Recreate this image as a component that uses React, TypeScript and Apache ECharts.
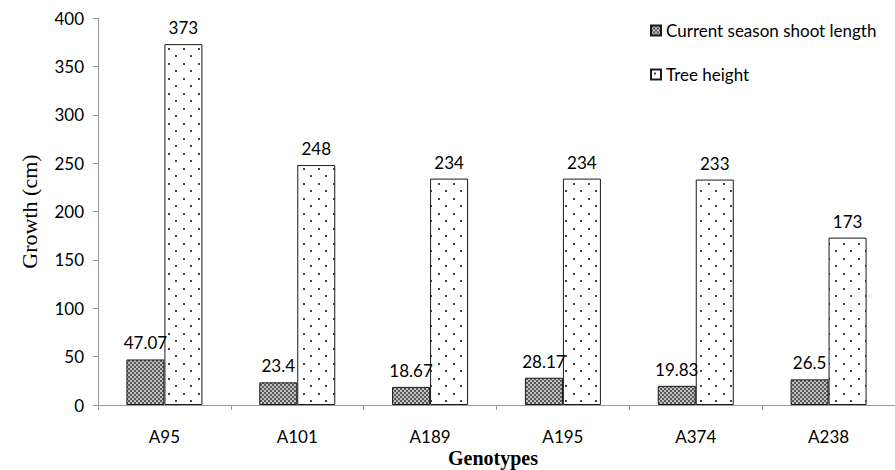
import React, { useEffect, useRef } from "react";
import * as echarts from "echarts";

const genotypes = ["A95", "A101", "A189", "A195", "A374", "A238"];
const shootLength = [47.07, 23.4, 18.67, 28.17, 19.83, 26.5];
const treeHeight = [373, 248, 234, 234, 233, 173];
const yTicks = { min: 0, max: 400, interval: 50 };

const FONT = "Lato, 'Open Sans', sans-serif";
const SERIF = "'Liberation Serif', 'DejaVu Serif', serif";

// Fine grey checkerboard fill for the shoot-length bars
function checkerPattern(): HTMLCanvasElement {
  const c = document.createElement("canvas");
  c.width = 4;
  c.height = 4;
  const ctx = c.getContext("2d")!;
  ctx.fillStyle = "#c0c0c0";
  ctx.fillRect(0, 0, 4, 4);
  ctx.fillStyle = "#5a5a5a";
  ctx.fillRect(0, 0, 2, 2);
  ctx.fillRect(2, 2, 2, 2);
  return c;
}

// Staggered dot fill for the tree-height bars
function dotPattern(): HTMLCanvasElement {
  const c = document.createElement("canvas");
  c.width = 15;
  c.height = 15;
  const ctx = c.getContext("2d")!;
  ctx.fillStyle = "#ffffff";
  ctx.fillRect(0, 0, 15, 15);
  ctx.fillStyle = "#444444";
  ctx.fillRect(3, 3, 2, 2);
  ctx.fillRect(10, 10, 2, 2);
  return c;
}

export default function App() {
  const ref = useRef<HTMLDivElement>(null);

  useEffect(() => {
    if (!ref.current) return;
    const chart = echarts.init(ref.current, undefined, { renderer: "svg" });
    const labelStyle = {
      show: true,
      position: "top" as const,
      distance: 8,
      color: "#000",
      fontFamily: FONT,
      fontSize: 17,
    };
    chart.setOption({
      animation: false,
      backgroundColor: "#fff",
      grid: { left: 98, right: -11, top: 18, bottom: 65, containLabel: false },
      legend: {
        orient: "vertical",
        left: 645,
        top: 17,
        itemWidth: 10,
        itemHeight: 10,
        itemGap: 27,
        icon: "rect",
        textStyle: { fontFamily: FONT, fontSize: 17, color: "#000" },
        data: ["Current season shoot length", "Tree height"],
      },
      xAxis: {
        type: "category",
        data: genotypes,
        axisLine: { lineStyle: { color: "#9a9a9a", width: 1 } },
        axisTick: { show: true, length: 5, lineStyle: { color: "#9a9a9a" } },
        axisLabel: { color: "#000", fontFamily: FONT, fontSize: 17, margin: 23 },
      },
      yAxis: {
        type: "value",
        min: yTicks.min,
        max: yTicks.max,
        interval: yTicks.interval,
        name: "Growth (cm)",
        nameLocation: "middle",
        nameGap: 58,
        nameTextStyle: { fontFamily: SERIF, fontSize: 22, color: "#000" },
        axisLine: { show: true, lineStyle: { color: "#9a9a9a", width: 1 } },
        axisTick: { show: true, length: 5, lineStyle: { color: "#9a9a9a" } },
        splitLine: { show: false },
        axisLabel: { color: "#000", fontFamily: FONT, fontSize: 17, margin: 14 },
      },
      graphic: [
        {
          type: "text",
          x: 493,
          y: 458,
          style: {
            text: "Genotypes",
            fontFamily: SERIF,
            fontWeight: "bold",
            fontSize: 20,
            fill: "#000",
            align: "center",
            verticalAlign: "middle",
          },
        },
      ],
      series: [
        {
          name: "Current season shoot length",
          type: "bar",
          data: shootLength,
          barWidth: 38,
          barGap: "0%",
          itemStyle: {
            color: { image: checkerPattern(), repeat: "repeat" },
            borderColor: "#1a1a1a",
            borderWidth: 1,
          },
          label: labelStyle,
        },
        {
          name: "Tree height",
          type: "bar",
          data: treeHeight,
          barWidth: 38,
          barGap: "0%",
          itemStyle: {
            color: { image: dotPattern(), repeat: "repeat" },
            borderColor: "#1a1a1a",
            borderWidth: 1,
          },
          label: labelStyle,
        },
      ],
    });
    return () => chart.dispose();
  }, []);

  return (
    <div
      ref={ref}
      style={{ position: "absolute", left: 0, top: 0, width: 895, height: 470 }}
    />
  );
}
